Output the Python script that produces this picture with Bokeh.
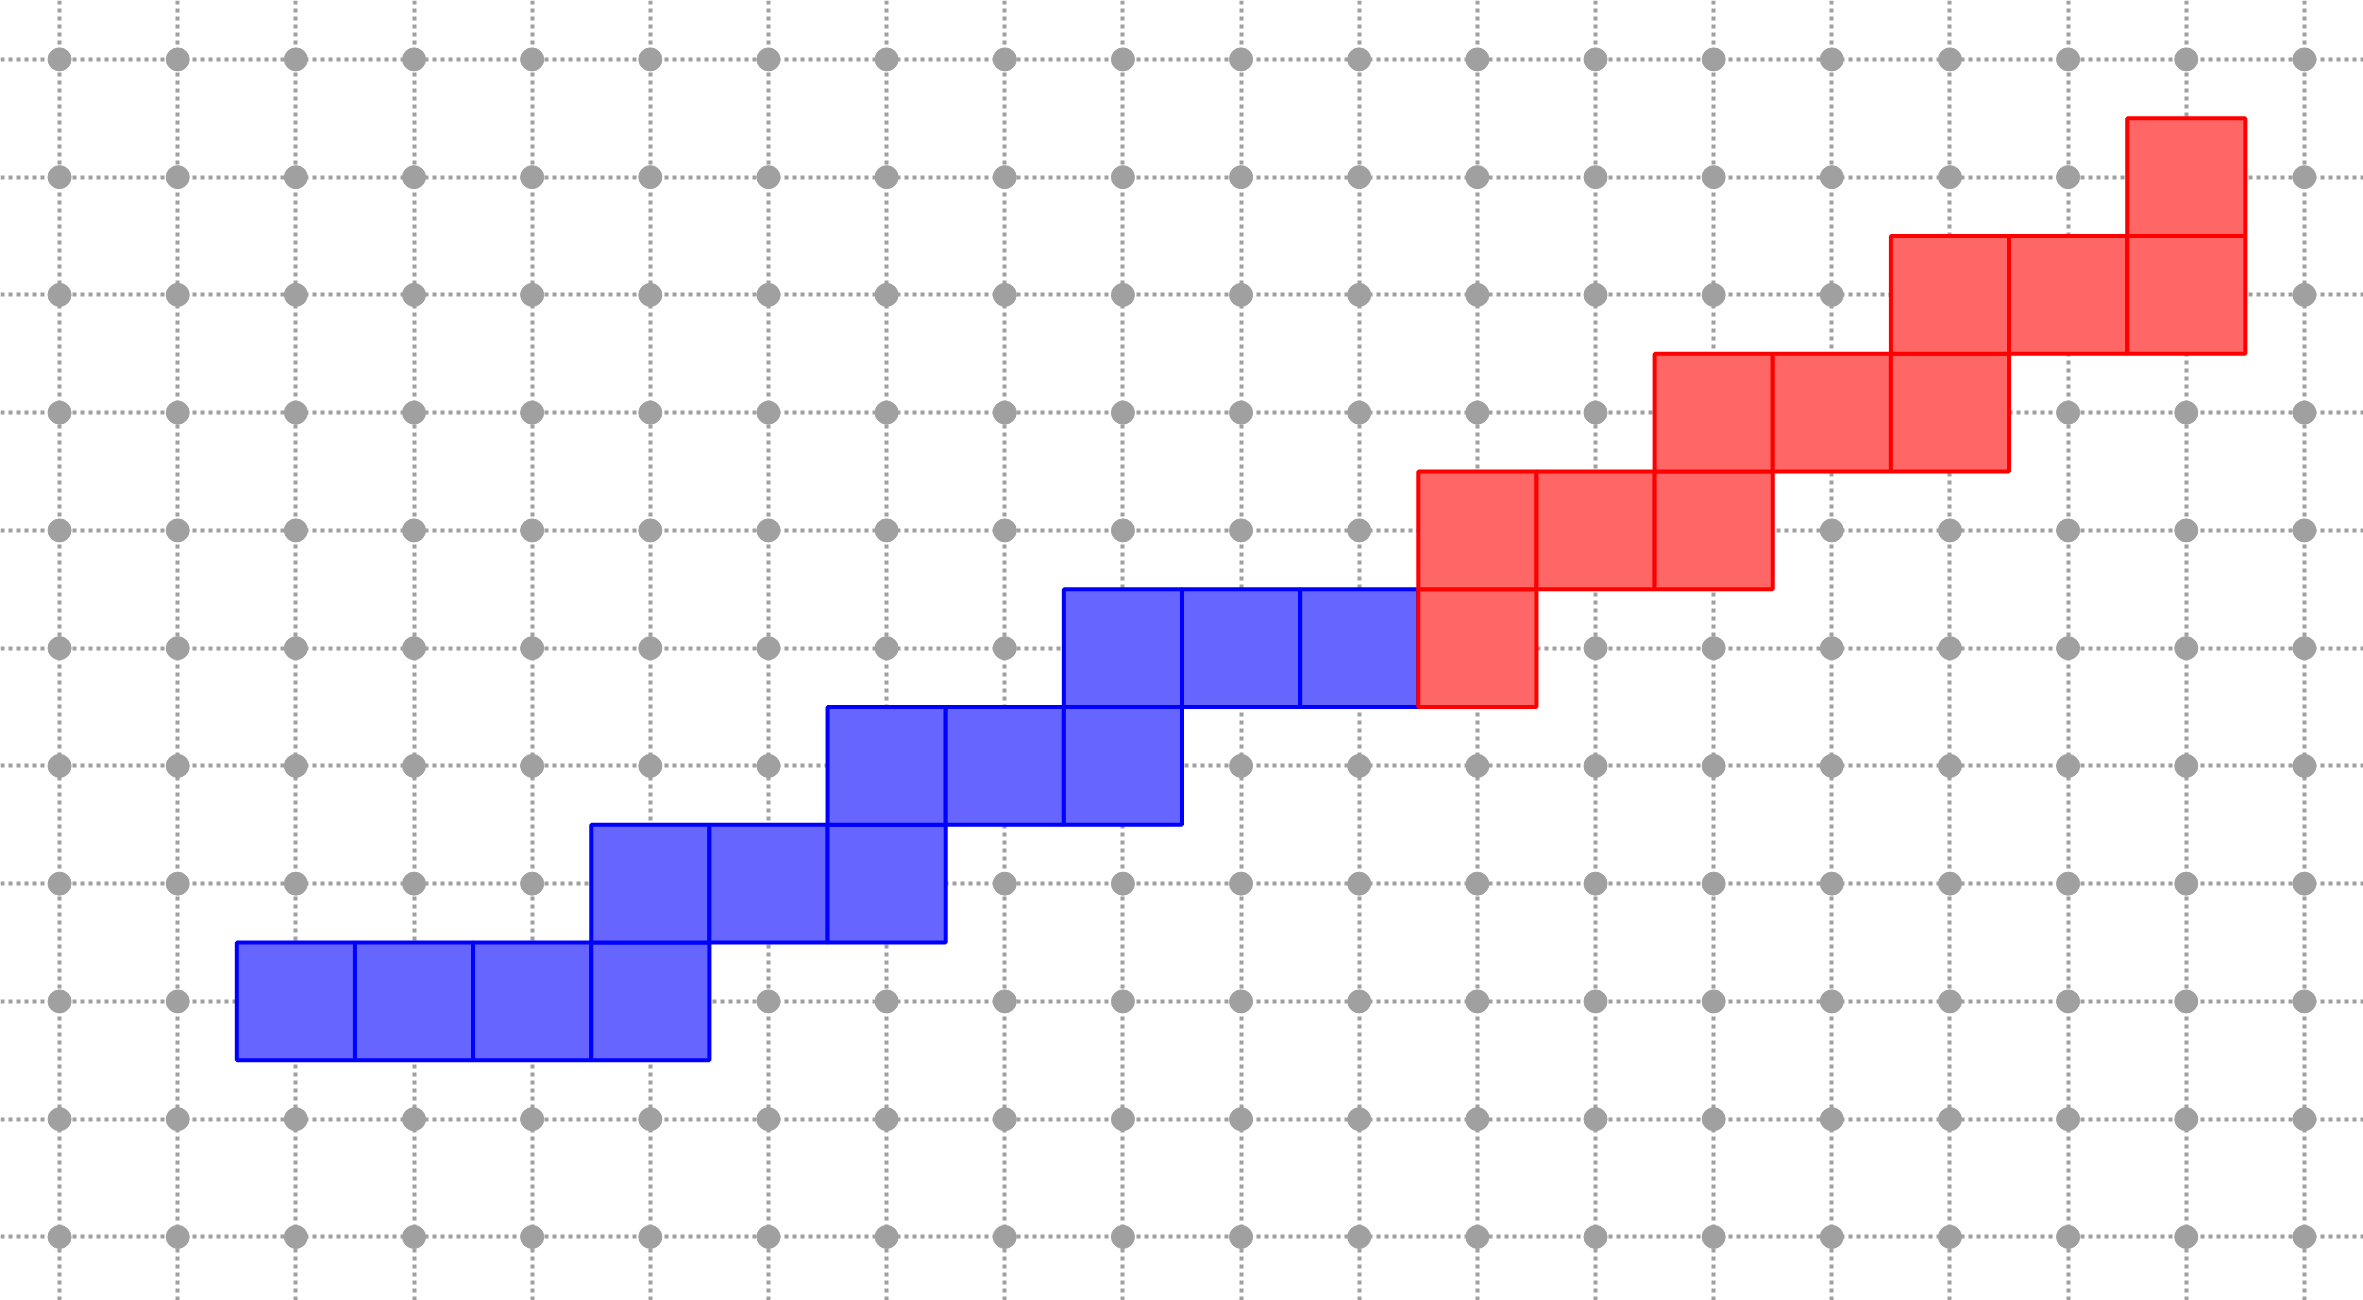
from bokeh.plotting import figure
from bokeh.models import Range1d, FixedTicker
from bokeh.embed import file_html
from bokeh.resources import INLINE

grid_x = list(range(20))
grid_y = list(range(11))

blue_x = [2, 3, 4, 5, 5, 6, 7, 7, 8, 9, 9, 10, 11]
blue_y = [2, 2, 2, 2, 3, 3, 3, 4, 4, 4, 5, 5, 5]
red_x = [12, 12, 13, 14, 14, 15, 16, 16, 17, 18, 18]
red_y = [5, 6, 6, 6, 7, 7, 7, 8, 8, 8, 9]

p = figure(width=2363, height=1300, output_backend="svg", toolbar_location=None,
           x_range=Range1d(-0.5, 19.5), y_range=Range1d(-0.54, 10.5),
           min_border=0, outline_line_color=None)
p.xaxis.ticker = FixedTicker(ticks=grid_x)
p.yaxis.ticker = FixedTicker(ticks=grid_y)
p.axis.visible = False
p.grid.grid_line_color = "#a0a0a0"
p.grid.grid_line_dash = "4 4"
p.grid.grid_line_width = 4

px = [x for x in grid_x for y in grid_y]
py = [y for x in grid_x for y in grid_y]
p.scatter(px, py, size=23, color="#a0a0a0")

p.rect(blue_x, blue_y, width=1, height=1, fill_color="#6666ff", line_color="#0000ff", line_width=4)
p.rect(red_x, red_y, width=1, height=1, fill_color="#ff6666", line_color="#ff0000", line_width=4)

open("out.html", "w").write(file_html(p, INLINE))
